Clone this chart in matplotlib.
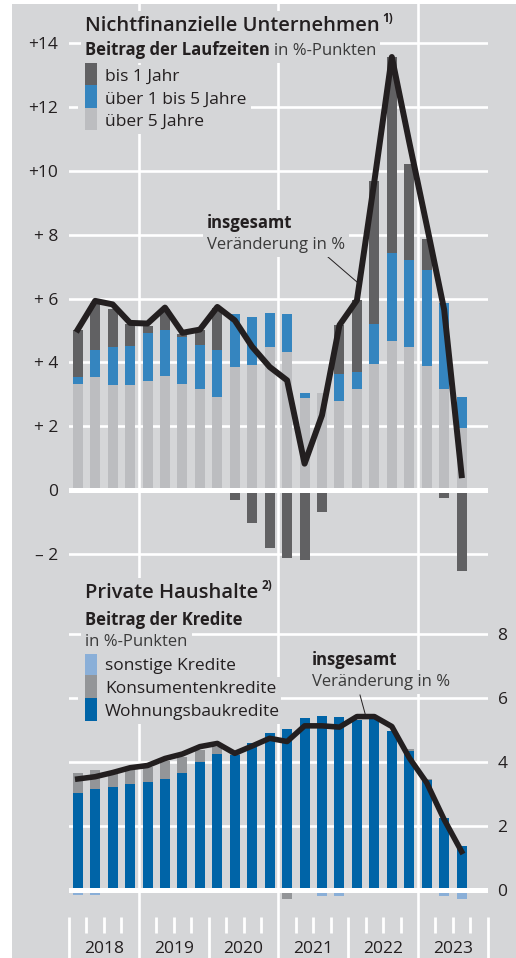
import numpy as np
import matplotlib
matplotlib.use('Agg')
import matplotlib.pyplot as plt
from matplotlib.patches import Rectangle
from matplotlib.lines import Line2D

plt.rcParams['font.family'] = ['Open Sans', 'DejaVu Sans']

years = ['2018', '2019', '2020', '2021', '2022', '2023']

# Nichtfinanzielle Unternehmen, Beitrag der Laufzeiten in %-Punkten (2018 Q1 - 2023 Q3)
nfc_long = [3.32, 3.55, 3.28, 3.29, 3.42, 3.58, 3.34, 3.16, 2.91, 3.85, 3.92, 4.48,
            4.33, 2.90, 3.03, 2.79, 3.18, 3.95, 4.66, 4.47, 3.88, 3.17, 1.95]
nfc_medium = [0.21, 0.83, 1.19, 1.24, 1.49, 1.45, 1.46, 1.40, 1.47, 1.66, 1.51, 1.08,
              1.19, 0.15, 0.0, 0.84, 0.52, 1.27, 2.77, 2.75, 3.03, 2.68, 0.97]
nfc_short = [1.48, 1.47, 1.22, 0.69, 0.24, 0.66, 0.10, 0.45, 1.32, -0.30, -1.03, -1.80,
             -2.14, -2.20, -0.68, 1.54, 2.27, 4.46, 6.14, 3.01, 0.95, -0.26, -2.53]
nfc_total = [5.03, 5.93, 5.82, 5.24, 5.22, 5.72, 4.93, 5.03, 5.74, 5.32, 4.49, 3.86,
             3.44, 0.83, 2.35, 5.17, 5.95, 9.68, 13.57, 10.9, 8.3, 5.65, 0.47]

# Private Haushalte, Beitrag der Kredite in %-Punkten
hh_housing = [3.04, 3.15, 3.23, 3.32, 3.38, 3.48, 3.67, 4.00, 4.24, 4.22, 4.60, 4.90,
              5.04, 5.37, 5.45, 5.40, 5.32, 5.40, 4.96, 4.33, 3.43, 2.24, 1.39]
hh_consumer = [0.61, 0.59, 0.40, 0.48, 0.47, 0.56, 0.48, 0.38, 0.24, 0.05, 0.0, -0.05,
               -0.29, 0.0, 0.0, 0.0, 0.0, 0.0, 0.0, 0.08, 0.05, 0.0, 0.0]
hh_other = [-0.15, -0.15, 0.0, 0.0, 0.0, 0.0, 0.0, 0.0, 0.0, 0.0, 0.0, 0.0,
            0.0, -0.05, -0.2, -0.2, 0.0, 0.0, 0.0, 0.0, 0.0, -0.2, -0.29]
hh_total = [3.47, 3.54, 3.67, 3.82, 3.89, 4.11, 4.25, 4.48, 4.58, 4.27, 4.50, 4.74,
            4.64, 5.13, 5.13, 5.09, 5.42, 5.42, 5.11, 4.13, 3.35, 2.20, 1.20]

BG = '#d5d6d8'
TXT = '#231f20'
C_SHORT, C_MED, C_LONG = '#616163', '#3585bf', '#bcbdc0'
C_HOUSE, C_CONS, C_OTHER = '#0064a7', '#939598', '#8aafd8'

W, H = 516, 958
def fx(px):
    return px / W
def fy(py):
    return 1 - py / H

fig = plt.figure(figsize=(W / 100, H / 100), dpi=100, facecolor='white')
fig.add_artist(Rectangle((fx(12), 0), 1 - fx(12), fy(4), transform=fig.transFigure,
                         fc=BG, ec='none', zorder=-10))

x0, x1 = 69, 487.8
ax1 = fig.add_axes([fx(x0), fy(577), (x1 - x0) / W, (577 - 4) / H])
ax2 = fig.add_axes([fx(x0), 0, (x1 - x0) / W, (H - 577) / H])
for ax in (ax1, ax2):
    ax.set_facecolor('none')
    for s in ax.spines.values():
        s.set_visible(False)
    ax.set_xlim(0, 24)
    ax.set_xticks([])
    ax.tick_params(axis='y', length=0, labelsize=12.5, labelcolor=TXT)
    for xv in (4, 12, 20):
        ax.axvline(xv, color='white', lw=1.9, zorder=1)

ax1.set_ylim(-2.72, 15.23)
ax2.set_ylim(-2.125, 9.781)

q = np.arange(len(nfc_total)) + 0.5
bw = 0.575

def stacked(ax, parts, colors):
    pos = np.zeros(len(q))
    neg = np.zeros(len(q))
    for vals, c in zip(parts, colors):
        v = np.asarray(vals, float)
        ax.bar(q, v, bw, bottom=np.where(v >= 0, pos, neg), color=c, lw=0, zorder=2)
        pos = pos + np.clip(v, 0, None)
        neg = neg + np.clip(v, None, 0)

# top panel
yt = list(range(-2, 15, 2))
ylab = ['\u2013 2', '0'] + ['+ %d' % v if v < 10 else '+%d' % v for v in yt[2:]]
ax1.set_yticks(yt, ylab)
ax1.tick_params(axis='y', pad=8)
for v in yt:
    ax1.axhline(v, color='white', lw=3.6 if v == 0 else 1.9, zorder=3 if v == 0 else 1)
stacked(ax1, [nfc_long, nfc_medium, nfc_short], [C_LONG, C_MED, C_SHORT])
ax1.plot(q, nfc_total, color=TXT, lw=4.3, zorder=5, solid_joinstyle='round')

# bottom panel
yt2 = list(range(0, 9, 2))
ax2.yaxis.tick_right()
ax2.set_yticks(yt2, [str(v) for v in yt2])
ax2.tick_params(axis='y', pad=7)
for v in yt2:
    ax2.axhline(v, color='white', lw=3.6 if v == 0 else 1.9, zorder=3 if v == 0 else 1)
stacked(ax2, [hh_housing, hh_consumer, hh_other], [C_HOUSE, C_CONS, C_OTHER])
ax2.plot(q, hh_total, color=TXT, lw=4.0, zorder=5, solid_joinstyle='round')

# quarter ticks and year labels
qt = np.arange(0, 25)
ax2.vlines([t for t in qt if t % 4], -0.84, -1.34, color='white', lw=2, clip_on=False)
ax2.vlines([0, 8, 16, 24], -0.84, -2.125, color='white', lw=2, clip_on=False)
for i, yr in enumerate(years):
    ax2.text(4 * i + 2, -1.85, yr, ha='center', va='center', fontsize=12.5, color=TXT)

# texts
box = dict(boxstyle='square,pad=0.25', fc=BG, ec='none')
renderer = fig.canvas.get_renderer()

def txt(px, py, s, size=12.5, weight='normal', color=TXT, bbox=True):
    return fig.text(fx(px), fy(py), s, fontsize=size, fontweight=weight, color=color,
                    va='baseline', ha='left', zorder=6, bbox=box if bbox else None)

def after(t, gap, py, s, **kw):
    ext = t.get_window_extent(renderer)
    return txt(ext.x1 + gap, py, s, **kw)

t = txt(85, 31, 'Nichtfinanzielle Unternehmen', size=14.5, weight='semibold')
after(t, 3, 22, '1)', size=8.5, weight='bold', bbox=False)
t = txt(85, 55, 'Beitrag der Laufzeiten', size=12, weight='bold')
after(t, 4, 55, 'in %-Punkten', size=12, color='#3a3a3a')

fig.add_artist(Rectangle((fx(78), fy(132)), fx(27), 72 / H, transform=fig.transFigure,
                         fc=BG, ec='none', zorder=5))
for (top, bot), c, lab in zip([(63, 85), (85, 108), (108, 130)],
                               [C_SHORT, C_MED, C_LONG],
                               ['bis 1 Jahr', '\u00fcber 1 bis 5 Jahre', '\u00fcber 5 Jahre']):
    fig.add_artist(Rectangle((fx(85), fy(bot)), fx(12), (bot - top) / H,
                             transform=fig.transFigure, fc=c, ec='none', zorder=6))
    txt(105, bot - 4, lab)

txt(207, 228, 'insgesamt', size=12, weight='bold')
txt(207, 249, 'Ver\u00e4nderung in %', size=12, color='#3a3a3a')
fig.add_artist(Line2D([fx(328), fx(357)], [fy(257), fy(282)], color=TXT, lw=0.7,
                      transform=fig.transFigure, zorder=6))

t = txt(85, 598, 'Private Haushalte', size=14.5, weight='semibold')
after(t, 3, 589, '2)', size=8.5, weight='bold', bbox=False)
txt(85, 625, 'Beitrag der Kredite', size=12, weight='bold')
txt(85, 646, 'in %-Punkten', size=12, color='#3a3a3a')
fig.add_artist(Rectangle((fx(78), fy(722)), fx(27), 72 / H, transform=fig.transFigure,
                         fc=BG, ec='none', zorder=5))
for (top, bot), c, lab in zip([(652, 675), (675, 698), (698, 721)],
                               [C_OTHER, C_CONS, C_HOUSE],
                               ['sonstige Kredite', 'Konsumentenkredite', 'Wohnungsbaukredite']):
    fig.add_artist(Rectangle((fx(85), fy(bot)), fx(12), (bot - top) / H,
                             transform=fig.transFigure, fc=c, ec='none', zorder=6))
    txt(105, bot - 5, lab)

txt(312, 665, 'insgesamt', size=12, weight='bold')
txt(312, 686, 'Ver\u00e4nderung in %', size=12, color='#3a3a3a')
fig.add_artist(Line2D([fx(360), fx(366)], [fy(695), fy(717)], color=TXT, lw=0.7,
                      transform=fig.transFigure, zorder=6))

fig.savefig('out.png', dpi=100, facecolor='white')
